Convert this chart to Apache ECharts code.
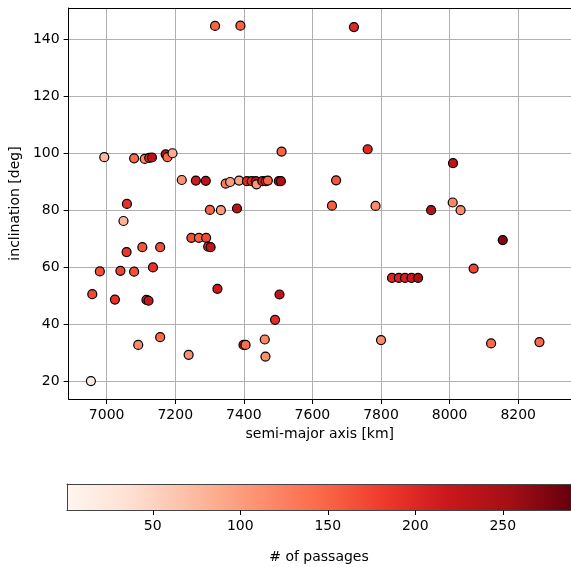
<!DOCTYPE html>
<html>
<head>
<meta charset="utf-8">
<script src="https://cdn.jsdelivr.net/npm/echarts@6/dist/echarts.min.js"></script>
<style>
html,body{margin:0;padding:0;background:#fff;}
#chart{width:571px;height:567px;}
</style>
</head>
<body>
<div id="chart"></div>
<script>
// semi-major axis [km]
var semiMajor = [7316,7390,7721,6993,7080,7111,7124,7132,7172,7177,7192,7510,7761,8010,
  7219,7260,7289,7347,7360,7386,7409,7423,7435,7437,7454,7464,7470,7502,7508,7669,
  7059,7049,7301,7333,7380,7657,7784,7946,8009,8032,
  7247,7269,7290,7296,7303,7058,7104,7156,8155,
  6980,7040,7080,7135,8070,7832,7852,7870,7889,7908,
  6958,7024,7116,7122,7323,7504,7491,
  7156,7092,7239,6954,7399,7405,7461,7463,7800,8121,8262];
// inclination [deg]
var inclination = [144.7,144.8,144.3,98.6,98.2,98.0,98.4,98.5,99.6,98.6,100.0,100.6,101.4,96.5,
  90.6,90.4,90.3,89.3,89.9,90.4,90.2,90.2,90.2,89.1,90.2,90.2,90.4,90.2,90.2,90.5,
  82.2,76.2,80.1,80.0,80.6,81.6,81.5,80.0,82.7,80.0,
  70.3,70.3,70.3,67.2,67.0,65.3,67.0,67.0,69.5,
  58.5,58.7,58.4,59.9,59.5,56.2,56.2,56.2,56.2,56.2,
  50.5,48.6,48.5,48.2,52.4,50.4,41.5,
  35.4,32.7,29.2,20.0,32.7,32.7,34.6,28.6,34.4,33.2,33.7];
// number of passages
var passages = [150,150,200,75,145,115,195,235,235,145,85,150,200,230,
  110,215,235,130,100,95,200,195,225,105,210,200,150,235,245,160,
  190,80,150,100,235,155,115,240,120,115,
  165,150,170,190,225,185,160,165,270,
  165,175,165,190,175,200,205,210,215,245,
  170,190,200,220,215,230,195,
  145,115,110,20,230,140,120,110,115,145,145];

var xLimits = [6889, 8354];
var yLimits = [13.7, 151.0];
var cLimits = [1, 289];
var redsCmap = ['#fff5f0','#fee0d2','#fcbba1','#fc9272','#fb6a4a','#ef3b2c','#cb181d','#a50f15','#67000d'];

var FONT = 'DejaVu Sans';
var points = semiMajor.map(function (x, i) { return [x, inclination[i], passages[i]]; });
var plain = function (v) { return String(Math.round(v)); };

var chart = echarts.init(document.getElementById('chart'), null, {renderer: 'canvas'});
var gradStops = redsCmap.map(function (c, i) { return {offset: i / (redsCmap.length - 1), color: c}; });

chart.setOption({
  animation: false,
  backgroundColor: '#ffffff',
  textStyle: {fontFamily: FONT},
  grid: [
    {left: 67, top: 8, right: -12, bottom: 168, containLabel: false},
    {left: 67, top: 484, right: 0, height: 26, show: true, borderWidth: 0,
     backgroundColor: new echarts.graphic.LinearGradient(0, 0, 1, 0, gradStops)}
  ],
  visualMap: [{
    type: 'continuous', show: false, min: cLimits[0], max: cLimits[1], dimension: 2,
    seriesIndex: 0, inRange: {color: redsCmap}
  }],
  xAxis: [
    {type: 'value', gridIndex: 0, position: 'bottom', min: xLimits[0], max: xLimits[1], splitNumber: 7,
     name: 'semi-major axis [km]', nameLocation: 'middle', nameGap: 28,
     nameTextStyle: {fontFamily: FONT, fontSize: 14, color: '#000'},
     axisLine: {show: true, onZero: false, lineStyle: {color: '#000', width: 1}},
     axisTick: {show: true, length: 5, lineStyle: {color: '#000', width: 1}},
     axisLabel: {show: true, margin: 9, fontFamily: FONT, fontSize: 14, color: '#000', showMinLabel: false, showMaxLabel: false, formatter: plain},
     splitLine: {show: true, lineStyle: {color: '#b0b0b0', width: 1}}},
    {type: 'value', gridIndex: 0, position: 'top', min: xLimits[0], max: xLimits[1],
     axisLine: {show: true, onZero: false, lineStyle: {color: '#000', width: 1}},
     axisTick: {show: false}, axisLabel: {show: false}, splitLine: {show: false}},
    {type: 'value', gridIndex: 1, position: 'bottom', min: cLimits[0], max: cLimits[1], splitNumber: 6,
     name: '# of passages', nameLocation: 'middle', nameGap: 40,
     nameTextStyle: {fontFamily: FONT, fontSize: 14, color: '#000'},
     axisLine: {show: true, onZero: false, lineStyle: {color: '#444', width: 1}},
     axisTick: {show: true, length: 5, lineStyle: {color: '#000', width: 1}},
     axisLabel: {show: true, margin: 9, fontFamily: FONT, fontSize: 14, color: '#000', showMinLabel: false, showMaxLabel: false, formatter: plain},
     splitLine: {show: false}},
    {type: 'value', gridIndex: 1, position: 'top', min: cLimits[0], max: cLimits[1],
     axisLine: {show: true, onZero: false, lineStyle: {color: '#444', width: 1}},
     axisTick: {show: false}, axisLabel: {show: false}, splitLine: {show: false}}
  ],
  yAxis: [
    {type: 'value', gridIndex: 0, position: 'left', min: yLimits[0], max: yLimits[1], splitNumber: 7,
     name: 'inclination [deg]', nameLocation: 'middle', nameGap: 44,
     nameTextStyle: {fontFamily: FONT, fontSize: 14, color: '#000'},
     axisLine: {show: true, onZero: false, lineStyle: {color: '#000', width: 1}},
     axisTick: {show: true, length: 5, lineStyle: {color: '#000', width: 1}},
     axisLabel: {show: true, margin: 9, fontFamily: FONT, fontSize: 14, color: '#000', showMinLabel: false, showMaxLabel: false, formatter: plain},
     splitLine: {show: true, lineStyle: {color: '#b0b0b0', width: 1}}},
    {type: 'value', gridIndex: 1, position: 'left', min: 0, max: 1,
     axisLine: {show: true, onZero: false, lineStyle: {color: '#444', width: 1}},
     axisTick: {show: false}, axisLabel: {show: false}, splitLine: {show: false}}
  ],
  series: [{
    type: 'scatter', xAxisIndex: 0, yAxisIndex: 0,
    data: points, symbol: 'circle', symbolSize: 9,
    itemStyle: {borderColor: '#000', borderWidth: 1.2, opacity: 1},
    emphasis: {disabled: true}, silent: true
  }]
});
</script>
</body>
</html>
